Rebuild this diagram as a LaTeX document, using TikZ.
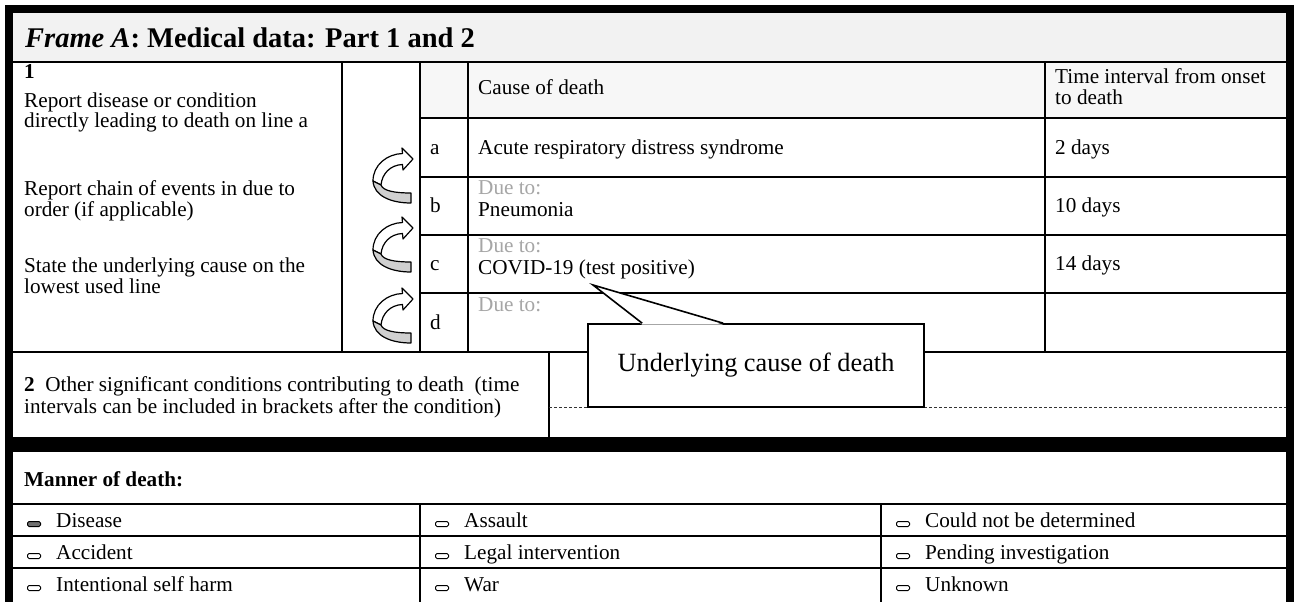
\documentclass[tikz,border=0pt]{standalone}
\usepackage{fontspec}
\setmainfont{Liberation Serif}
\usetikzlibrary{calc}
\definecolor{titlegray}{HTML}{F2F2F2}
\definecolor{headgray}{HTML}{F7F7F7}
\definecolor{duegray}{HTML}{A6A6A6}
\definecolor{ribbon}{HTML}{D0D0D0}
\definecolor{chkdark}{HTML}{707070}
\tikzset{
  rule/.style={line width=1.6pt},
  txt/.style={anchor=base west, inner sep=0pt, font=\fontsize{21.2}{23}\selectfont},
  duetxt/.style={txt, text=duegray},
  boldtxt/.style={txt, font=\fontsize{21.2}{23}\selectfont\bfseries},
  ttl/.style={anchor=base west, inner sep=0pt, font=\fontsize{28.5}{32}\selectfont\bfseries},
  dashrule/.style={draw=black!80, line width=1pt, dash pattern=on 3pt off 2pt},
  chk/.style={draw, line width=1pt, rounded corners=1.5pt, fill=white, minimum width=13pt, minimum height=5pt, inner sep=0pt, anchor=south west},
  callbox/.style={draw, line width=1.6pt, fill=white, minimum width=336pt, minimum height=83pt, inner sep=0pt, font=\fontsize{26.3}{29}\selectfont},
  pics/curvarrow/.style={code={
    \filldraw[fill=white, draw=black, line width=1.2pt, line join=round]
      (29.5,5.5) -- (29,0) -- (40,11) -- (30,22) -- (29.5,16.5)
      .. controls (17,17) and (9,26) .. (8,37) -- (0,33)
      .. controls (0,17) and (14,6) .. (29.5,5.5) -- cycle;
    \filldraw[fill=ribbon, draw=black, line width=1.2pt, line join=round]
      (0,33) .. controls (1,48) and (18,55) .. (38,55) -- (38,45)
      .. controls (22,45) and (10,43) .. (8,37) -- cycle;
  }},
}
\begin{document}
\begin{tikzpicture}[x=1pt, y=-1pt]
\useasboundingbox (0,0) rectangle (1294,602);
\fill[white] (0,0) rectangle (1294,602);
% backgrounds
\fill[titlegray] (13,13) rectangle (1286,62);
\fill[headgray] (420,62) rectangle (1286,118);
% heavy frame
\fill[black] (5,5) rectangle (1294,13);
\fill[black] (5,5) rectangle (13,602);
\fill[black] (1286,5) rectangle (1294,602);
\fill[black] (13,437) rectangle (1286,452);
% title
\node[ttl] (title) at (25,48) {\textit{Frame A}: Medical data: Part 1 and 2};
% table rules
\draw[rule] (13,62) -- (1286,62);
\draw[rule] (420,118) -- (1286,118);
\draw[rule] (420,177) -- (1286,177);
\draw[rule] (420,235) -- (1286,235);
\draw[rule] (420,293) -- (1286,293);
\draw[rule] (13,352) -- (1286,352);
\draw[rule] (342,62) -- (342,352);
\draw[rule] (420,62) -- (420,352);
\draw[rule] (468,62) -- (468,352);
\draw[rule] (1045,62) -- (1045,352);
\draw[rule] (549,352) -- (549,437);
\draw[dashrule] (549,407) -- (1286,407);
% manner rules
\draw[rule] (13,504) -- (1286,504);
\draw[rule] (13,536) -- (1286,536);
\draw[rule] (13,568) -- (1286,568);
\draw[rule] (420,504) -- (420,602);
\draw[rule] (881,504) -- (881,602);
% left column
\node[boldtxt] (n1) at (24,79) {1};
\node[txt] (l1) at (24,107) {Report disease or condition};
\node[txt] (l2) at (24,128) {directly leading to death on line a};
\node[txt] (l3) at (24,195) {Report chain of events in due to};
\node[txt] (l4) at (24,216) {order (if applicable)};
\node[txt] (l5) at (24,272) {State the underlying cause on the};
\node[txt] (l6) at (24,293) {lowest used line};
% arrows
\pic at (373,148) {curvarrow};
\pic at (373,217) {curvarrow};
\pic at (373,288) {curvarrow};
% header
\node[txt] (hcause) at (478,95) {Cause of death};
\node[txt] (htime1) at (1055,84) {Time interval from onset};
\node[txt] (htime2) at (1055,105) {to death};
% row a
\node[txt] (la) at (430,154) {a};
\node[txt] (ca) at (478,154) {Acute respiratory distress syndrome};
\node[txt] (ta) at (1055,154) {2 days};
% row b
\node[txt] (lb) at (430,212) {b};
\node[duetxt] (db) at (478,194) {Due to:};
\node[txt] (cb) at (478,216) {Pneumonia};
\node[txt] (tb) at (1055,212) {10 days};
% row c
\node[txt] (lc) at (430,270) {c};
\node[duetxt] (dc) at (478,252) {Due to:};
\node[txt] (cc) at (478,274) {COVID-19 (test positive)};
\node[txt] (tc) at (1055,270) {14 days};
% row d
\node[txt] (ld) at (430,329) {d};
\node[duetxt] (dd) at (478,311) {Due to:};
% part 2
\node[txt] (p2a) at (24,391) {\textbf{2}\ \ Other significant conditions contributing to death\ \ (time};
\node[txt] (p2b) at (24,413) {intervals can be included in brackets after the condition)};
% callout
\node[callbox] (callout) at (756,365.5) {Underlying cause of death};
\coordinate (tip) at (593,285);
\fill[white] ($(callout.north west)+(55,1.5)$) -- (tip) -- ($(callout.north west)+(136,1.5)$) -- cycle;
\draw[line width=1.6pt, line join=miter] ($(callout.north west)+(55,0)$) -- (tip) -- ($(callout.north west)+(136,0)$);
% manner of death
\node[boldtxt] (mtitle) at (24,486) {Manner of death:};
\node[chk, fill=chkdark] (k1) at (27,527) {};
\node[txt] (m1) at (56,527) {Disease};
\node[chk] (k2) at (27,559) {};
\node[txt] (m2) at (56,559) {Accident};
\node[chk] (k3) at (27,591) {};
\node[txt] (m3) at (56,591) {Intentional self harm};
\node[chk] (k4) at (435,527) {};
\node[txt] (m4) at (464,527) {Assault};
\node[chk] (k5) at (435,559) {};
\node[txt] (m5) at (464,559) {Legal intervention};
\node[chk] (k6) at (435,591) {};
\node[txt] (m6) at (464,591) {War};
\node[chk] (k7) at (896,527) {};
\node[txt] (m7) at (925,527) {Could not be determined};
\node[chk] (k8) at (896,559) {};
\node[txt] (m8) at (925,559) {Pending investigation};
\node[chk] (k9) at (896,591) {};
\node[txt] (m9) at (925,591) {Unknown};
\end{tikzpicture}
\end{document}
